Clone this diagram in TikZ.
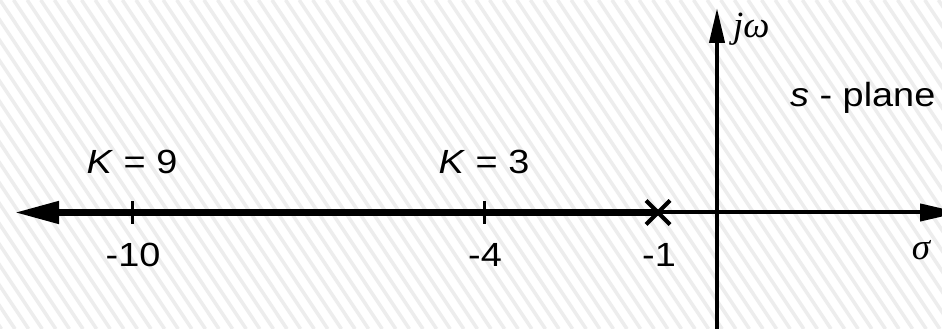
\documentclass[tikz,border=0pt]{standalone}
\usepackage{fontspec}
\setmainfont{Liberation Sans}[FakeStretch=1.13]
\newfontfamily\greekfont{Liberation Serif}
\usetikzlibrary{arrows.meta}
\begin{document}
\begin{tikzpicture}[x=1pt,y=1pt,
  lbl/.style={inner sep=0pt, font=\fontsize{33.5}{38}\selectfont, anchor=base},
  glbl/.style={inner sep=0pt, font=\greekfont\itshape\fontsize{37}{42}\selectfont, anchor=base},
  axisline/.style={line width=4pt, draw=black},
  locus/.style={line width=7.5pt, draw=black},
  tickmark/.style={line width=3pt, draw=black},
  polemark/.style={line width=4pt, draw=black},
  hatch/.style={gray!14, line width=3.5pt}]
\useasboundingbox (0,0) rectangle (942,329);
\fill[white] (0,0) rectangle (942,329);
\begin{scope}
\clip (0,0) rectangle (942,329);
\foreach \i in {-18,...,72} { \draw[hatch] (\i*13.6, 329) -- ++(219,-329); }
\end{scope}
% coordinates
\coordinate (O) at (717,116.5);
\coordinate (Lt) at (14,116.5);
\coordinate (Rt) at (960,116.5);
\coordinate (Bot) at (717,-5);
\coordinate (Top) at (717,321);
\coordinate (P1) at (658,116.5);
\coordinate (P4) at (484,116.5);
\coordinate (P10) at (132,116.5);
% axes
\draw[axisline, -{Triangle[length=40pt,width=17pt]}] (P1) -- (Rt);
\draw[axisline, -{Triangle[length=35pt,width=15pt]}] (Bot) -- (Top);
% locus
\draw[locus, -{Triangle[length=45pt,width=21pt]}] (P1) -- (Lt);
% ticks
\draw[tickmark] (P10) ++(0,11) -- ++(0,-23);
\draw[tickmark] (P4) ++(0,11) -- ++(0,-23);
% pole
\draw[polemark] (P1) ++(-12,-12) -- ++(24,24);
\draw[polemark] (P1) ++(-12,12) -- ++(24,-24);
% labels
\node[lbl] (k9) at (132,155) {\textit{K} = 9};
\node[lbl] (k3) at (484,155) {\textit{K} = 3};
\node[lbl] (m10) at (133,62) {-10};
\node[lbl] (m4) at (485,62) {-4};
\node[lbl] (m1) at (659,62) {-1};
\node[glbl] (sig) at (921,69) {σ};
\node[glbl, anchor=base west] (jw) at (733,291) {jω};
\node[lbl, anchor=base west] (sp) at (790,222) {\textit{s} - plane};
\end{tikzpicture}
\end{document}
